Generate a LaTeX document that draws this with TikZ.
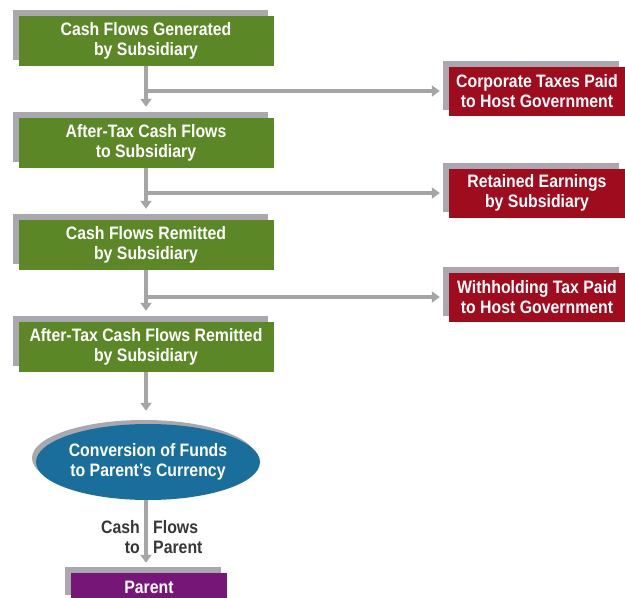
\documentclass[tikz,border=0pt]{standalone}
\usepackage{fontspec}
\setmainfont{Liberation Sans}[FakeStretch=0.88]
\usetikzlibrary{shapes.geometric,shadows,arrows.meta}
\definecolor{flowgreen}{RGB}{92,135,38}
\definecolor{flowred}{RGB}{158,12,30}
\definecolor{flowblue}{RGB}{26,110,156}
\definecolor{flowpurple}{RGB}{118,22,118}
\definecolor{shadowgray}{RGB}{168,168,174}
\definecolor{arrowgray}{RGB}{165,165,165}
\definecolor{labelgray}{RGB}{55,55,55}
\begin{document}
\begin{tikzpicture}[x=1pt,y=-1pt,
    every node/.style={font=\fontsize{18}{20}\selectfont\bfseries, align=center, inner sep=0pt},
    backshadow/.style={drop shadow={shadow xshift=-6pt,shadow yshift=6pt,fill=shadowgray,opacity=1}},
    subbox/.style={backshadow, fill=flowgreen, text=white, minimum width=255pt, minimum height=50pt},
    taxbox/.style={backshadow, fill=flowred, text=white, minimum width=176pt, minimum height=49pt},
    flow/.style={draw=arrowgray, line width=4pt, -{Triangle[width=11pt,length=8pt]}}]
    \useasboundingbox (0,0) rectangle (625,598);

    % Subsidiary cash flow boxes
    \node [subbox] (gen) at (146,41) {Cash Flows Generated\\by Subsidiary};
    \node [subbox] (after) at (146,143) {After-Tax Cash Flows\\to Subsidiary};
    \node [subbox] (remit) at (146,245) {Cash Flows Remitted\\by Subsidiary};
    \node [subbox] (net) at (146,347) {After-Tax Cash Flows Remitted\\by Subsidiary};

    % Outflows to the right
    \node [taxbox] (corp) at (537,91) {Corporate Taxes Paid\\to Host Government};
    \node [taxbox] (kept) at (537,193) {Retained Earnings\\by Subsidiary};
    \node [taxbox] (whold) at (537,297) {Withholding Tax Paid\\to Host Government};

    % Conversion and parent
    \node [ellipse, fill=flowblue, text=white, minimum width=216pt, minimum height=76pt,
           drop shadow={shadow xshift=-4pt,shadow yshift=4pt,fill=shadowgray,opacity=1}]
           (conv) at (148,462) {Conversion of Funds\\to Parent's Currency};
    \node [backshadow, fill=flowpurple, text=white, minimum width=156pt, minimum height=28pt]
           (par) at (149,587) {Parent};

    % Main flow downwards
    \draw [flow, shorten >=11pt] (gen.south) -- (after.north);
    \draw [flow, shorten >=11pt] (after.south) -- (remit.north);
    \draw [flow, shorten >=11pt] (remit.south) -- (net.north);
    \draw [flow, shorten >=13pt] (net.south) -- (net.south |- conv.north);
    \draw [flow, shorten >=10pt] (net.south |- conv.south) -- (net.south |- par.north);

    % Branches to the outflows
    \coordinate (j1) at (gen.south |- corp.west);
    \coordinate (j2) at (after.south |- kept.west);
    \coordinate (j3) at (remit.south |- whold.west);
    \draw [flow, shorten >=9pt] (j1) -- (corp.west);
    \draw [flow, shorten >=9pt] (j2) -- (kept.west);
    \draw [flow, shorten >=9pt] (j3) -- (whold.west);

    % Label on the last arrow
    \node [text=labelgray, align=right, anchor=east] (cashto) at (140,537) {Cash\\to};
    \node [text=labelgray, align=left, anchor=west] (flowspar) at (153,537) {Flows\\Parent};
\end{tikzpicture}
\end{document}
